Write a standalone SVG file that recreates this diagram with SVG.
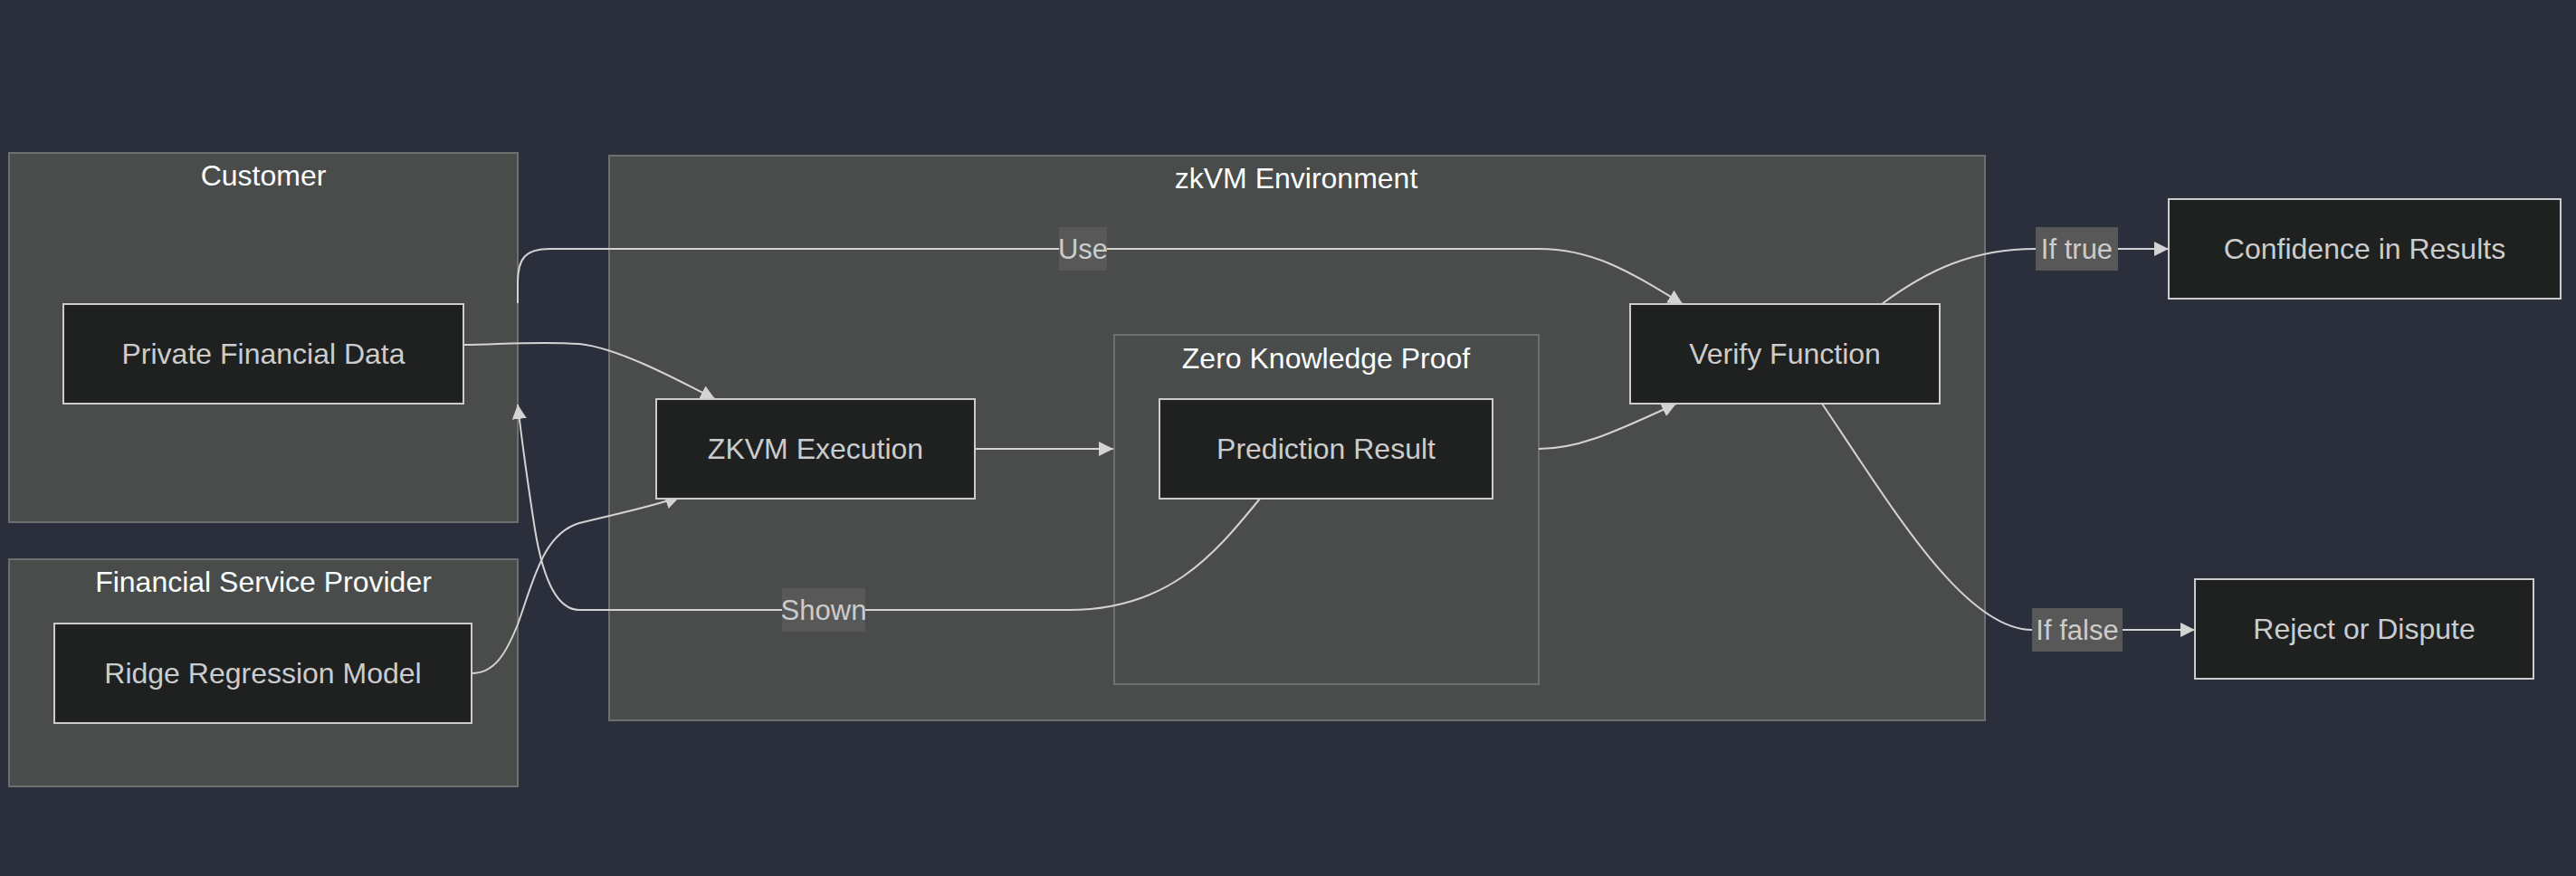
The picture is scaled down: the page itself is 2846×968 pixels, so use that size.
<svg xmlns="http://www.w3.org/2000/svg" width="2846" height="968" viewBox="0 0 2846 968">
<style>
.cluster{fill:#4a4b4b;stroke:#6e7070;stroke-width:2}
.node rect{fill:#1f2020;stroke:#cccccc;stroke-width:2}
.ntext{font-family:"Liberation Sans",Arial,sans-serif;font-size:32px;fill:#cccccc;text-anchor:middle;dominant-baseline:central}
.ctext{font-family:"Liberation Sans",Arial,sans-serif;font-size:32px;fill:#f9fffe;text-anchor:middle;dominant-baseline:central}
.edge{fill:none;stroke:#d3d3d3;stroke-width:2}
.lbg{fill:#585858}
.ltext{font-family:"Liberation Sans",Arial,sans-serif;font-size:31px;fill:#cccccc;text-anchor:middle;dominant-baseline:central}
</style>
<defs>
<marker id="arr" markerUnits="userSpaceOnUse" markerWidth="16" markerHeight="16" refX="16" refY="8" orient="auto" viewBox="0 0 16 16">
<path d="M0,0 L16,8 L0,16 z" fill="#d3d3d3"/>
</marker>
</defs>
<rect width="2846" height="968" fill="#2b2f3b"/>
<g id="cluster-customer">
<rect class="cluster" x="10" y="169" width="562" height="408"/>
<text class="ctext" x="291" y="194">Customer</text>
</g>
<g id="cluster-fsp">
<rect class="cluster" x="10" y="618" width="562" height="251"/>
<text class="ctext" x="291" y="643">Financial Service Provider</text>
</g>
<g id="cluster-zkvm">
<rect class="cluster" x="673" y="172" width="1520" height="624"/>
<text class="ctext" x="1432" y="197">zkVM Environment</text>
</g>
<g id="cluster-zkp">
<rect class="cluster" x="1231" y="370" width="469" height="386"/>
<text class="ctext" x="1465" y="396">Zero Knowledge Proof</text>
</g>
<g id="edges">
<path class="edge" d="M512,381 C560,380 600,377 640,380 C680,384 740,415 790,441" marker-end="url(#arr)"/>
<path class="edge" d="M521,744 C545,744 558,725 572,690 C590,640 600,590 640,578 C680,568 720,560 751,549" marker-end="url(#arr)"/>
<path class="edge" d="M1077,496 L1230,496" marker-end="url(#arr)"/>
<path class="edge" d="M1700,496 C1740,496 1775,482 1852,446" marker-end="url(#arr)"/>
<path class="edge" d="M572,335 L572,312 C572,286 580,275 608,275 L1700,275 C1760,275 1800,300 1859,336" marker-end="url(#arr)"/>
<path class="edge" d="M1392,551 C1340,615 1290,674 1180,674 L640,674 C615,674 600,640 591,585 C584,540 578,500 572,447" marker-end="url(#arr)"/>
<path class="edge" d="M2079,336 C2130,298 2180,275 2249,275 L2396,275" marker-end="url(#arr)"/>
<path class="edge" d="M2013,446 C2090,560 2170,696 2245,696 L2425,696" marker-end="url(#arr)"/>
<g id="label-use"><rect class="lbg" x="1170" y="251" width="53" height="48"/><text class="ltext" x="1196.5" y="275">Use</text></g>
<g id="label-shown"><rect class="lbg" x="864" y="650" width="92" height="48"/><text class="ltext" x="910" y="674">Shown</text></g>
<g id="label-true"><rect class="lbg" x="2249" y="251" width="91" height="48"/><text class="ltext" x="2294.5" y="275">If true</text></g>
<g id="label-false"><rect class="lbg" x="2245" y="672" width="100" height="48"/><text class="ltext" x="2295" y="696">If false</text></g>
</g>
<g id="node-pfd" class="node"><rect x="70" y="336" width="442" height="110"/><text class="ntext" x="291" y="391">Private Financial Data</text></g>
<g id="node-ridge" class="node"><rect x="60" y="689" width="461" height="110"/><text class="ntext" x="290.5" y="744">Ridge Regression Model</text></g>
<g id="node-zkvm" class="node"><rect x="725" y="441" width="352" height="110"/><text class="ntext" x="901" y="496">ZKVM Execution</text></g>
<g id="node-pred" class="node"><rect x="1281" y="441" width="368" height="110"/><text class="ntext" x="1465" y="496">Prediction Result</text></g>
<g id="node-verify" class="node"><rect x="1801" y="336" width="342" height="110"/><text class="ntext" x="1972" y="391">Verify Function</text></g>
<g id="node-conf" class="node"><rect x="2396" y="220" width="433" height="110"/><text class="ntext" x="2612.5" y="275">Confidence in Results</text></g>
<g id="node-reject" class="node"><rect x="2425" y="640" width="374" height="110"/><text class="ntext" x="2612" y="695">Reject or Dispute</text></g>
</svg>
